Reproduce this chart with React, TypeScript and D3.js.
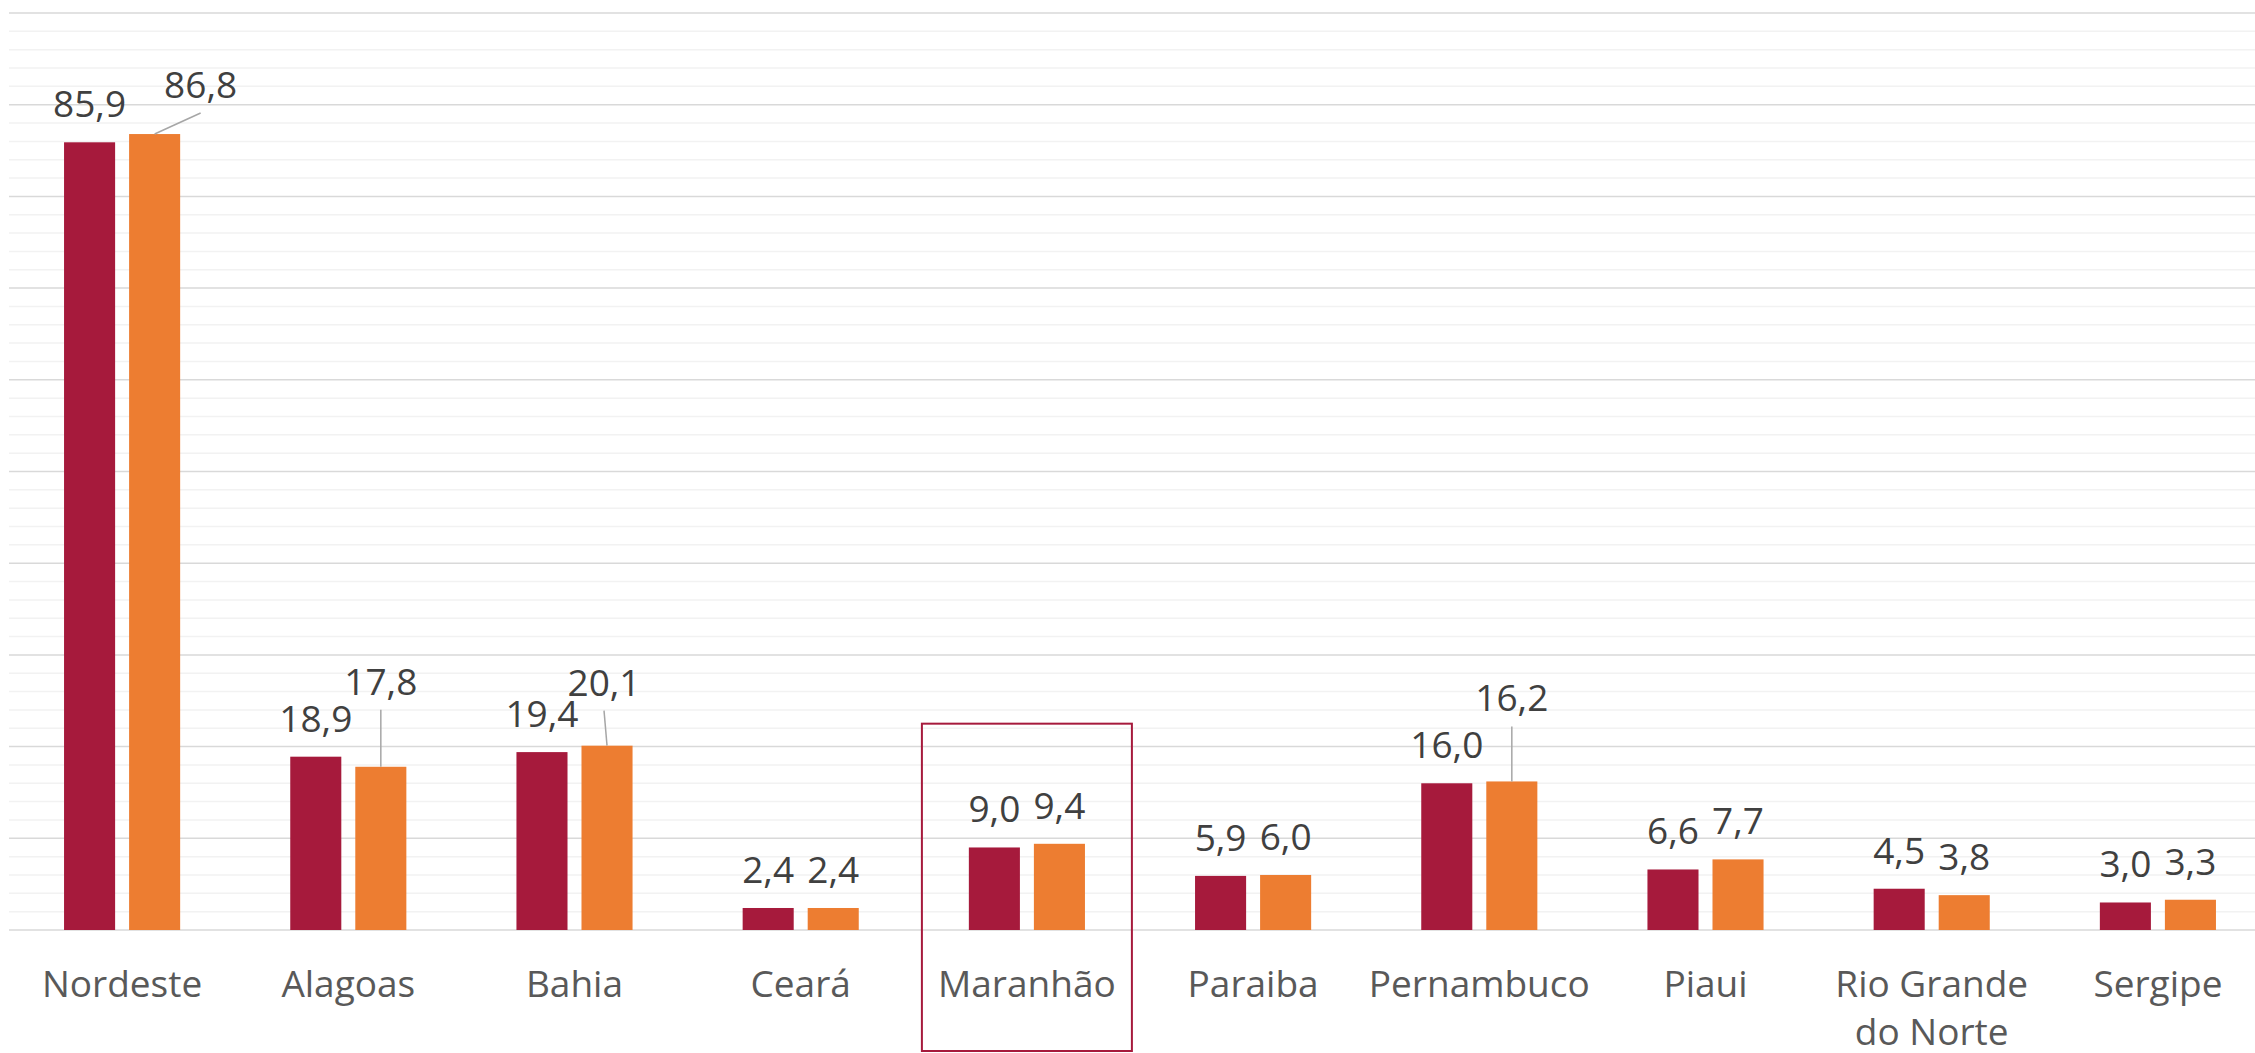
import React from "react";
import * as d3 from "d3";

const width = 2255;
const height = 1053;
const margin = { top: 13, left: 9, bottom: 123 };

const categories = [
  "Nordeste",
  "Alagoas",
  "Bahia",
  "Ceará",
  "Maranhão",
  "Paraiba",
  "Pernambuco",
  "Piaui",
  "Rio Grande do Norte",
  "Sergipe"
];
const seriesNames = ["serieA", "serieB"];
const serieA = [85.9, 18.9, 19.4, 2.4, 9.0, 5.9, 16.0, 6.6, 4.5, 3.0];
const serieB = [86.8, 17.8, 20.1, 2.4, 9.4, 6.0, 16.2, 7.7, 3.8, 3.3];
const majorTicks = d3.range(0, 101, 10);
const minorTicks = d3.range(0, 101, 2);
const highlighted = "Maranhão";

const colors = { serieA: "#A61A3C", serieB: "#ED7D31" };

// labels that were dragged away from their bars in the original (pixels)
const labelNudges = [
  { serie: "serieB", cat: "Nordeste", dx: 46, dy: -11 },
  { serie: "serieB", cat: "Alagoas", dx: 0, dy: -47 },
  { serie: "serieB", cat: "Bahia", dx: -3, dy: -25 },
  { serie: "serieB", cat: "Pernambuco", dx: 0, dy: -45 }
];

const fontFamily = "'Open Sans', 'Noto Sans', sans-serif";
const fontSize = 37;
const fmt = (v: number) => d3.format(".1f")(v).replace(".", ",");

function wrap(text: string, maxWidth: number) {
  const words = text.split(" ");
  const lines: string[] = [];
  let line = "";
  words.forEach(w => {
    const test = line ? line + " " + w : w;
    if (test.length * fontSize * 0.55 > maxWidth && line) {
      lines.push(line);
      line = w;
    } else line = test;
  });
  lines.push(line);
  return lines;
}

export default function App() {
  const step = 226.2;
  const x0 = d3
    .scaleBand()
    .domain(categories)
    .range([margin.left, margin.left + step * categories.length])
    .paddingInner(110 / 226)
    .paddingOuter(55 / 226);
  const x1 = d3
    .scaleBand()
    .domain(seriesNames)
    .range([0, x0.bandwidth()])
    .paddingInner(0.215);
  const yScale = d3
    .scaleLinear()
    .domain([0, 100])
    .range([height - margin.bottom, margin.top]);

  const rows = categories.map((c, i) => ({
    cat: c,
    values: [
      { serie: "serieA", value: serieA[i] },
      { serie: "serieB", value: serieB[i] }
    ]
  }));

  const hx = (x0(highlighted) as number) + x0.bandwidth() / 2;

  return (
    <>
      <style>{`body{margin:0;background:#fff}`}</style>
      <svg width={width} height={height} style={{ display: "block" }}>
        {/* minor grid */}
        {minorTicks
          .filter(t => t % 10 !== 0)
          .map(t => (
            <line
              key={"m" + t}
              x1={margin.left}
              x2={width}
              y1={yScale(t)}
              y2={yScale(t)}
              stroke="#F2F2F2"
              strokeWidth={1.5}
            />
          ))}
        {majorTicks.map(t => (
          <line
            key={"M" + t}
            x1={margin.left}
            x2={width}
            y1={yScale(t)}
            y2={yScale(t)}
            stroke="#D9D9D9"
            strokeWidth={1.5}
          />
        ))}

        {rows.map(r => (
          <g key={r.cat} transform={`translate(${x0(r.cat)},0)`}>
            {r.values.map(d => (
              <rect
                key={d.serie}
                x={x1(d.serie)}
                y={yScale(d.value)}
                width={x1.bandwidth()}
                height={yScale(0) - yScale(d.value)}
                fill={colors[d.serie as keyof typeof colors]}
              />
            ))}
          </g>
        ))}

        {/* value labels */}
        {rows.map(r =>
          r.values.map(d => {
            const cx = (x0(r.cat) as number) + (x1(d.serie) as number) + x1.bandwidth() / 2;
            const top = yScale(d.value);
            const nudge = labelNudges.find(n => n.serie === d.serie && n.cat === r.cat);
            const lx = cx + (nudge ? nudge.dx : 0);
            const ly = top - 25 + (nudge ? nudge.dy : 0);
            return (
              <g key={r.cat + d.serie}>
                {nudge && (
                  <line
                    x1={lx}
                    y1={ly + 15}
                    x2={cx}
                    y2={top}
                    stroke="#A6A6A6"
                    strokeWidth={1.5}
                  />
                )}
                <text
                  x={lx}
                  y={ly}
                  textAnchor="middle"
                  fontFamily={fontFamily}
                  fontSize={fontSize}
                  fill="#404040"
                >
                  {fmt(d.value)}
                </text>
              </g>
            );
          })
        )}

        {/* category labels */}
        {categories.map(c => {
          const cx = (x0(c) as number) + x0.bandwidth() / 2;
          return (
            <text
              key={c}
              x={cx}
              y={997}
              textAnchor="middle"
              fontFamily={fontFamily}
              fontSize={fontSize}
              fill="#595959"
            >
              {wrap(c, step).map((l, i) => (
                <tspan key={i} x={cx} dy={i === 0 ? 0 : 48}>
                  {l}
                </tspan>
              ))}
            </text>
          );
        })}

        {/* highlight box */}
        <rect
          x={hx - 105}
          y={yScale(22.5)}
          width={210}
          height={height - 2 - yScale(22.5)}
          fill="none"
          stroke="#A61A3C"
          strokeWidth={2}
        />
      </svg>
    </>
  );
}
